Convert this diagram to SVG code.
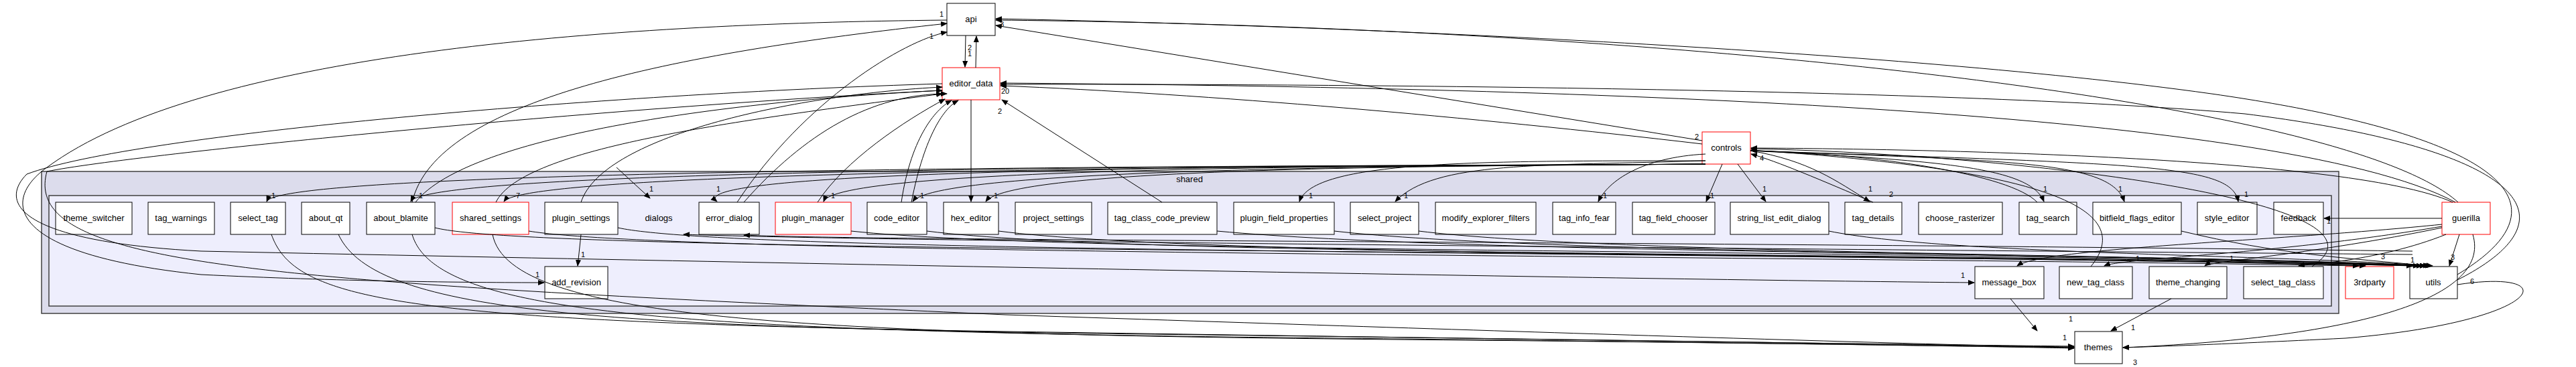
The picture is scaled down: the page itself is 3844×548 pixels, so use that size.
<svg xmlns="http://www.w3.org/2000/svg" width="3844" height="548" viewBox="0 0 3844 548">
<style>
.n rect{fill:#fff;stroke:#000;stroke-width:1}
.r rect{stroke:#f00}
text{font-family:"Liberation Sans",Arial,sans-serif;font-size:13px;text-anchor:middle}
.e path{fill:none;stroke:#000;stroke-width:1;marker-end:url(#a)}
.l text{font-size:11px}
</style>
<defs><marker id="a" markerWidth="10" markerHeight="8" refX="9" refY="4" orient="auto" markerUnits="userSpaceOnUse"><path d="M0,0 L10,4 L0,8 z"/></marker></defs>
<rect width="3844" height="548" fill="#fff"/>
<g id="cluster_shared"><rect x="62" y="256" width="3428" height="212" fill="#dcdcec" stroke="#404040" stroke-width="1.5"/><text x="1775" y="272">shared</text></g>
<g id="cluster_dialogs"><rect x="73" y="292" width="3406" height="165" fill="#eeeefd" stroke="#404040" stroke-width="1.5"/><text x="983" y="330">dialogs</text></g>
<g id="api" class="n"><rect x="1413" y="5" width="72" height="48"/><text x="1449" y="33">api</text></g>
<g id="editor_data" class="n r"><rect x="1406" y="101" width="86" height="48"/><text x="1449" y="129">editor_data</text></g>
<g id="controls" class="n r"><rect x="2540" y="197" width="72" height="48"/><text x="2576" y="225">controls</text></g>
<g id="theme_switcher" class="n"><rect x="83" y="302" width="114" height="48"/><text x="140" y="330">theme_switcher</text></g>
<g id="tag_warnings" class="n"><rect x="221" y="302" width="99" height="48"/><text x="270" y="330">tag_warnings</text></g>
<g id="select_tag" class="n"><rect x="344" y="302" width="82" height="48"/><text x="385" y="330">select_tag</text></g>
<g id="about_qt" class="n"><rect x="450" y="302" width="72" height="48"/><text x="486" y="330">about_qt</text></g>
<g id="about_blamite" class="n"><rect x="547" y="302" width="102" height="48"/><text x="598" y="330">about_blamite</text></g>
<g id="shared_settings" class="n r"><rect x="675" y="302" width="114" height="48"/><text x="732" y="330">shared_settings</text></g>
<g id="plugin_settings" class="n"><rect x="813" y="302" width="109" height="48"/><text x="867" y="330">plugin_settings</text></g>
<g id="error_dialog" class="n"><rect x="1043" y="302" width="90" height="48"/><text x="1088" y="330">error_dialog</text></g>
<g id="plugin_manager" class="n r"><rect x="1157" y="302" width="113" height="48"/><text x="1213" y="330">plugin_manager</text></g>
<g id="code_editor" class="n"><rect x="1294" y="302" width="89" height="48"/><text x="1338" y="330">code_editor</text></g>
<g id="hex_editor" class="n"><rect x="1408" y="302" width="82" height="48"/><text x="1449" y="330">hex_editor</text></g>
<g id="project_settings" class="n"><rect x="1515" y="302" width="114" height="48"/><text x="1572" y="330">project_settings</text></g>
<g id="tag_class_code_preview" class="n"><rect x="1653" y="302" width="163" height="48"/><text x="1734" y="330">tag_class_code_preview</text></g>
<g id="plugin_field_properties" class="n"><rect x="1841" y="302" width="150" height="48"/><text x="1916" y="330">plugin_field_properties</text></g>
<g id="select_project" class="n"><rect x="2015" y="302" width="102" height="48"/><text x="2066" y="330">select_project</text></g>
<g id="modify_explorer_filters" class="n"><rect x="2142" y="302" width="150" height="48"/><text x="2217" y="330">modify_explorer_filters</text></g>
<g id="tag_info_fear" class="n"><rect x="2317" y="302" width="94" height="48"/><text x="2364" y="330">tag_info_fear</text></g>
<g id="tag_field_chooser" class="n"><rect x="2436" y="302" width="123" height="48"/><text x="2497" y="330">tag_field_chooser</text></g>
<g id="string_list_edit_dialog" class="n"><rect x="2582" y="302" width="147" height="48"/><text x="2655" y="330">string_list_edit_dialog</text></g>
<g id="tag_details" class="n"><rect x="2753" y="302" width="85" height="48"/><text x="2795" y="330">tag_details</text></g>
<g id="choose_rasterizer" class="n"><rect x="2863" y="302" width="125" height="48"/><text x="2925" y="330">choose_rasterizer</text></g>
<g id="tag_search" class="n"><rect x="3013" y="302" width="86" height="48"/><text x="3056" y="330">tag_search</text></g>
<g id="bitfield_flags_editor" class="n"><rect x="3123" y="302" width="132" height="48"/><text x="3189" y="330">bitfield_flags_editor</text></g>
<g id="style_editor" class="n"><rect x="3279" y="302" width="89" height="48"/><text x="3323" y="330">style_editor</text></g>
<g id="feedback" class="n"><rect x="3393" y="302" width="74" height="48"/><text x="3430" y="330">feedback</text></g>
<g id="guerilla" class="n r"><rect x="3644" y="302" width="72" height="48"/><text x="3680" y="330">guerilla</text></g>
<g id="add_revision" class="n"><rect x="813" y="398" width="94" height="48"/><text x="860" y="426">add_revision</text></g>
<g id="message_box" class="n"><rect x="2947" y="398" width="103" height="48"/><text x="2998" y="426">message_box</text></g>
<g id="new_tag_class" class="n"><rect x="3073" y="398" width="109" height="48"/><text x="3127" y="426">new_tag_class</text></g>
<g id="theme_changing" class="n"><rect x="3207" y="398" width="116" height="48"/><text x="3265" y="426">theme_changing</text></g>
<g id="select_tag_class" class="n"><rect x="3348" y="398" width="119" height="48"/><text x="3407" y="426">select_tag_class</text></g>
<g id="3rdparty" class="n r"><rect x="3500" y="398" width="72" height="48"/><text x="3536" y="426">3rdparty</text></g>
<g id="utils" class="n"><rect x="3596" y="398" width="71" height="48"/><text x="3631" y="426">utils</text></g>
<g id="themes" class="n"><rect x="3096" y="495" width="71" height="48"/><text x="3131" y="523">themes</text></g>
<g id="edges" class="e">
<path d="M1441,53 L1440,100"/>
<path d="M1456,101 L1457,54"/>
<path d="M2540,210 L1486,38"/>
<path d="M2540,215 C2200,175 1800,140 1493,128"/>
<path d="M3668,302 C3500,150 2500,40 1486,30"/>
<path d="M3664,302 C3400,160 2300,130 1493,124"/>
<path d="M3660,302 C3500,230 2800,222 2613,221"/>
<path d="M3667,410 C3850,300 3720,200 3300,140 C2800,70 1900,36 1486,28"/>
<path d="M3667,418 C3860,320 3750,220 3350,170 C2900,130 1900,125 1493,126"/>
<path d="M3667,425 C3830,400 3800,480 3500,505 C3300,515 3200,518 3168,519"/>
<path d="M1413,30 C900,35 300,80 70,250 C0,300 10,380 300,410 C500,420 700,422 812,422"/>
<path d="M1406,125 C900,140 200,200 40,260 C0,300 20,360 300,375 C1500,400 2500,418 2946,422"/>
<path d="M1406,135 C900,160 200,230 70,256 C30,400 400,420 1500,470 C2400,500 2900,515 3095,519"/>
<path d="M2545,245 C2200,248 420,245 398,301"/>
<path d="M2545,245 C2200,248 640,245 613,301"/>
<path d="M2545,245 C2200,248 790,248 752,301"/>
<path d="M2545,245 C2200,248 1000,245 1070,301"/>
<path d="M2545,245 C2200,248 1250,245 1229,301"/>
<path d="M2545,245 C2200,248 1400,248 1362,301"/>
<path d="M2545,245 C2200,248 1510,248 1471,301"/>
<path d="M2545,240 C2200,240 1960,240 1939,301"/>
<path d="M2545,240 C2300,248 2140,240 2082,301"/>
<path d="M2545,230 C2450,235 2400,270 2385,301"/>
<path d="M2570,245 L2546,301"/>
<path d="M2593,245 L2635,301"/>
<path d="M2612,225 C2700,240 2740,270 2790,301"/>
<path d="M2612,225 C2900,240 3030,250 3050,301"/>
<path d="M2612,225 C3000,240 3150,240 3170,301"/>
<path d="M2612,225 C3200,245 3330,245 3340,301"/>
<path d="M920,250 L970,296"/>
<path d="M867,350 L862,397"/>
<path d="M3644,326 L3468,326"/>
<path d="M3644,335 C3400,360 3050,370 3010,397"/>
<path d="M3644,338 C3400,380 3170,385 3140,397"/>
<path d="M3644,340 C3450,380 3300,390 3290,397"/>
<path d="M3650,350 C3550,390 3440,395 3430,397"/>
<path d="M3670,350 L3655,397"/>
<path d="M3690,350 C3720,450 3500,505 3168,519"/>
<path d="M3000,446 L3040,494"/>
<path d="M3240,446 L3150,494"/>
<path d="M405,350 C440,450 600,480 1500,495 C2500,510 2900,515 3095,517"/>
<path d="M505,350 C560,470 900,490 1800,500 C2600,510 3000,517 3095,518"/>
<path d="M615,350 C650,470 1000,495 2000,505 C2700,513 3000,518 3095,519"/>
<path d="M735,350 C760,480 1200,500 2200,508 C2800,514 3050,519 3095,520"/>
<path d="M649,340 C800,380 2500,370 3600,397"/>
<path d="M789,345 C1000,380 2500,380 3520,397"/>
<path d="M922,340 C1100,380 2600,375 3610,397"/>
<path d="M1270,345 C1600,380 2800,370 3615,397"/>
<path d="M1383,345 C1700,385 2900,375 3620,397"/>
<path d="M1490,345 C1800,385 3000,380 3530,397"/>
<path d="M1816,345 C2200,380 3100,375 3625,397"/>
<path d="M1991,345 C2300,380 3200,378 3620,397"/>
<path d="M2117,345 C2400,380 3300,380 3628,397"/>
<path d="M2729,345 C2900,380 3400,380 3630,397"/>
<path d="M3255,345 C3400,380 3500,385 3625,397"/>
<path d="M3600,375 C2500,360 1300,360 1110,351"/>
<path d="M3600,380 C2500,370 1300,360 1020,350"/>
<path d="M1110,302 C1200,200 1300,140 1413,140"/>
<path d="M1345,302 C1360,200 1400,160 1420,150"/>
<path d="M1360,302 C1380,200 1410,160 1430,150"/>
<path d="M1220,302 C1260,240 1350,180 1410,148"/>
<path d="M1734,302 L1495,149"/>
<path d="M1449,149 L1449,301"/>
<path d="M740,302 C780,220 1100,180 1406,140"/>
<path d="M867,302 C900,200 1200,140 1406,130"/>
<path d="M620,302 C700,200 1100,150 1406,135"/>
<path d="M1100,302 C1200,150 1350,60 1413,48"/>
<path d="M615,302 C650,150 1000,80 1413,35"/>
<path d="M2795,302 C2720,270 2650,240 2613,230"/>
<path d="M3040,302 C3000,260 2800,230 2613,225"/>
<path d="M3120,398 C3200,300 3000,250 2613,224"/>
<path d="M3450,398 C3600,300 3000,230 2613,222"/>
</g>
<g class="l">
<text x="1405" y="25">1</text><text x="1390" y="58">1</text><text x="1447" y="75">2</text><text x="1447" y="84">1</text>
<text x="1495" y="40">3</text><text x="1500" y="140">20</text><text x="1492" y="170">2</text>
<text x="2532" y="208">2</text><text x="2629" y="240">4</text>
<text x="408" y="296">1</text><text x="628" y="296">1</text><text x="773" y="296">7</text><text x="972" y="286">1</text><text x="1072" y="286">1</text><text x="1243" y="296">1</text><text x="1376" y="296">1</text><text x="1486" y="296">1</text>
<text x="1956" y="296">1</text><text x="2098" y="296">1</text><text x="2395" y="296">1</text><text x="2555" y="296">1</text><text x="2633" y="286">1</text><text x="2791" y="286">1</text><text x="2822" y="294">2</text><text x="3052" y="286">1</text><text x="3164" y="286">1</text><text x="3352" y="294">1</text>
<text x="870" y="384">1</text><text x="802" y="414">1</text><text x="2929" y="415">1</text><text x="3081" y="508">1</text>
<text x="3090" y="480">1</text><text x="3183" y="493">1</text><text x="3186" y="545">3</text>
<text x="3475" y="334">1</text><text x="3660" y="388">3</text><text x="3556" y="387">3</text><text x="3600" y="392">1</text><text x="3689" y="424">6</text>
<text x="3190" y="390">1</text><text x="3330" y="390">1</text>
</g>
</svg>
